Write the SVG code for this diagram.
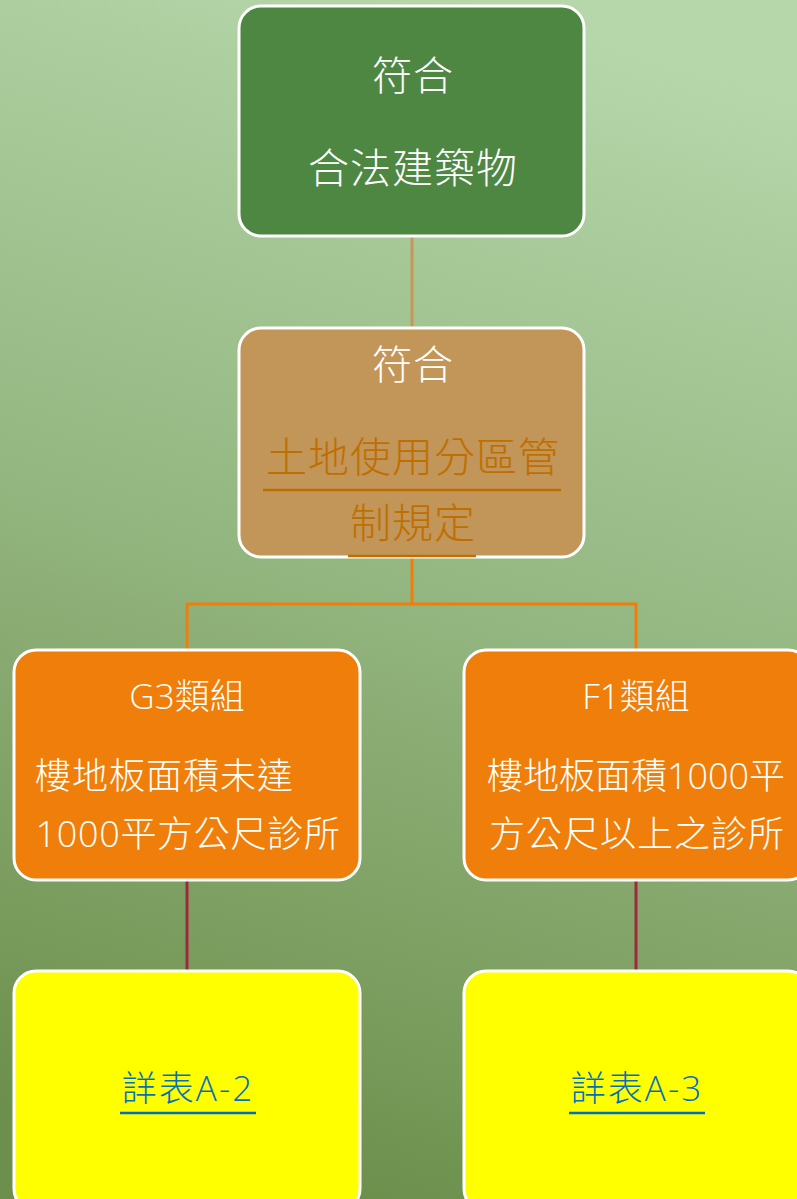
<svg xmlns="http://www.w3.org/2000/svg" width="797" height="1199" viewBox="0 0 797 1199">
<defs>
<linearGradient id="bg" x1="0.6" y1="0" x2="0.4" y2="1">
<stop offset="0" stop-color="#b5d7aa"/>
<stop offset="0.5" stop-color="#93b57f"/>
<stop offset="1" stop-color="#6d8f4c"/>
</linearGradient>
<style>
.box{stroke:#ffffff;stroke-width:3}
.t{font-family:"Open Sans","Noto Sans CJK TC",sans-serif;font-weight:300;text-anchor:middle}
.w{fill:#ffffff}
.l{fill:#bf6f00}
.b{fill:#0070c0;letter-spacing:2px}
.s{letter-spacing:1px}
.s2{letter-spacing:0.7px}
</style>
</defs>
<rect x="0" y="0" width="797" height="1199" fill="url(#bg)"/>
<g id="connectors" fill="none">
<line x1="412" y1="236" x2="412" y2="328" stroke="#c6965a" stroke-width="3"/>
<polyline points="412,557 412,604 187,604 187,650" stroke="#ef7f0a" stroke-width="3"/>
<polyline points="412,604 636,604 636,650" stroke="#ef7f0a" stroke-width="3"/>
<line x1="187" y1="880" x2="187" y2="971" stroke="#a0283c" stroke-width="3"/>
<line x1="636" y1="880" x2="636" y2="971" stroke="#a0283c" stroke-width="3"/>
</g>
<g id="node-legal">
<rect class="box" x="239" y="6" width="345" height="230" rx="22" fill="#4e8742"/>
<text class="t w s" x="413" y="90" font-size="40">符合</text>
<text class="t w s" x="413" y="183" font-size="41">合法建築物</text>
</g>
<g id="node-zoning">
<rect class="box" x="239" y="328" width="345" height="229" rx="22" fill="#c29558"/>
<text class="t w s" x="413" y="379" font-size="40">符合</text>
<text class="t l s" x="413" y="472" font-size="41">土地使用分區管</text>
<line x1="263" y1="490" x2="561" y2="490" stroke="#bf6f00" stroke-width="2.5"/>
<text class="t l s" x="413" y="538" font-size="41">制規定</text>
<line x1="348" y1="556" x2="476" y2="556" stroke="#bf6f00" stroke-width="2.5"/>
</g>
<g id="node-g3">
<rect class="box" x="14" y="650" width="346" height="230" rx="22" fill="#ef7f0a"/>
<text class="t w" x="187" y="709" font-size="35">G3類組</text>
<text class="t w s" x="35" y="789" font-size="36" style="text-anchor:start">樓地板面積未達</text>
<text class="t w s2" x="188" y="847" font-size="36">1000平方公尺診所</text>
</g>
<g id="node-f1">
<rect class="box" x="464" y="650" width="346" height="230" rx="22" fill="#ef7f0a"/>
<text class="t w" x="636" y="709" font-size="35">F1類組</text>
<text class="t w" x="636" y="789" font-size="36">樓地板面積1000平</text>
<text class="t w s" x="637" y="847" font-size="36">方公尺以上之診所</text>
</g>
<g id="node-a2">
<rect class="box" x="14" y="971" width="346" height="240" rx="22" fill="#ffff00"/>
<text class="t b" x="188" y="1101" font-size="35">詳表A-2</text>
<line x1="120" y1="1113" x2="256" y2="1113" stroke="#0070c0" stroke-width="2.5"/>
</g>
<g id="node-a3">
<rect class="box" x="464" y="971" width="346" height="240" rx="22" fill="#ffff00"/>
<text class="t b" x="637" y="1101" font-size="35">詳表A-3</text>
<line x1="569" y1="1113" x2="705" y2="1113" stroke="#0070c0" stroke-width="2.5"/>
</g>
</svg>
